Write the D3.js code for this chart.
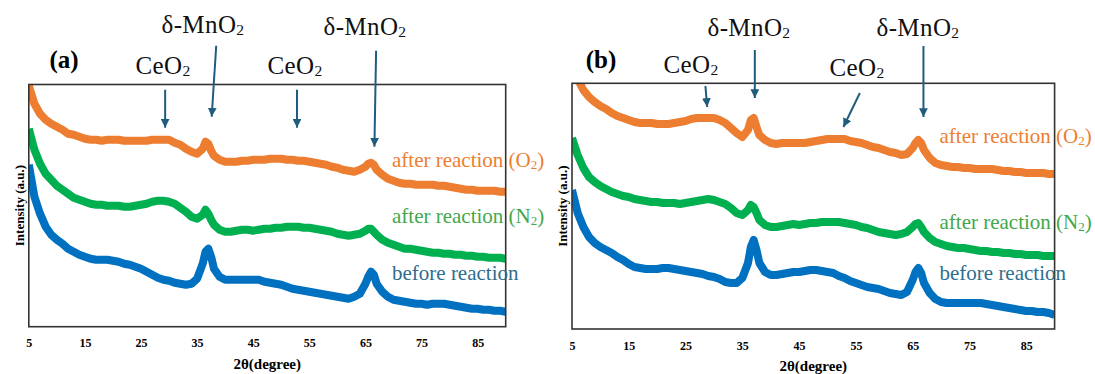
<!DOCTYPE html>
<html>
<head>
<meta charset="utf-8">
<script src="https://cdn.jsdelivr.net/npm/d3@7"></script>
<style>
  body { margin: 0; background: #fff; }
  text { font-family: "Liberation Serif", "DejaVu Serif", serif; }
</style>
</head>
<body>
<svg id="chart" width="1095" height="374"></svg>
<script>
// 2theta positions (degree), extra half steps around the two MnO2 peaks
var twoTheta = [5,6,7,8,9,10,11,12,13,14,15,16,17,18,19,20,21,22,23,24,25,26,27,28,29,30,31,32,33,34,35,36,36.5,37,37.5,
  38,39,40,41,42,43,44,45,46,47,48,49,50,51,52,53,54,55,56,57,58,59,60,61,62,63,64,65,65.5,66,66.5,
  67,68,69,70,71,72,73,74,75,76,77,78,79,80,81,82,83,84,85,86,87,88,89,90];

// panel (a) intensities, a.u. (offsets as stacked in the figure)
var aO2 = [241,223,213,207,203,200,197,193,192,190, 188,187,187,186,187,187,187,186,186,186,
  186,186,187,187,187,187,184,182,178,175, 173,178, 185,183,176,
  171,167,165,165,165,166,166, 167,167,167,168,168,168,167,167,166,166,
  165,164,163,162,160,159,157,156,155,157, 160, 163,164,162,
  157,152,148,146,144,143,143,142,142,142, 142,141,141,140,139,138,137,137,136,136, 136,136,135,135];
var aN2 = [198,177,163,153,147,141,137,133,129,127, 125,123,122,122,121,121,121,120,120,121,
  122,123,125,126,126,125,123,119,115,110, 108,112, 117,113,107,
  102,97,95,95,96,97,97, 96,97,98,98,99,99,100,100,100,99,
  99,98,97,96,95,93,92,91,92,93, 96, 98,98,95,
  92,87,84,82,80,78,78,77,76,75, 74,74,73,73,72,72,71,71,70,70, 69,69,69,68];
var aBefore = [162,130,113,100,92,87,83,78,75,72, 70,68,67,67,67,66,65,63,62,60,
  58,55,52,49,47,46,44,43,42,43, 48,63, 75,78,70,
  58,50,47,47,47,47,47, 47,47,45,44,43,42,40,38,37,36,
  35,34,33,32,31,30,29,28,30,33, 43, 50,55,52,
  43,35,30,27,26,25,24,23,23,22, 23,23,23,22,21,20,19,18,18,17, 17,16,16,15];

// panel (b) intensities, a.u.
var bO2 = [267,250,239,232,227,223,220,216,213,211, 209,207,206,206,206,205,205,205,206,207,
  208,210,211,211,211,211,209,206,201,196, 192,199, 209,211,202,
  194,189,186,185,186,186,186, 186,186,187,188,189,190,190,190,190,188,
  187,186,184,182,181,179,177,176,174,175, 181, 186,189,186,
  179,171,166,164,163,162,162,161,161,160, 160,160,160,159,158,158,157,157,156,156, 156,156,155,155];
var bN2 = [191,174,161,152,147,143,140,137,135,133, 132,130,129,128,127,127,126,126,126,125,
  126,127,128,129,130,129,127,125,121,116, 114,119, 124,122,116,
  109,104,102,102,103,104,105, 104,105,106,106,107,107,107,107,106,105,
  104,102,101,99,97,96,95,94,95,97, 102, 105,106,102,
  97,91,87,85,83,82,81,81,80,79, 78,78,77,77,76,76,75,75,74,74, 74,73,73,73];
var bBefore = [139,116,102,92,86,82,79,76,72,69, 65,62,61,60,60,60,61,61,60,59,
  58,57,56,55,53,52,50,47,46,46, 51,66, 82,89,79,
  66,57,54,54,55,56,57, 57,58,59,59,58,57,56,53,51,48,
  46,44,42,41,40,38,36,35,34,37, 49, 57,61,56,
  46,36,30,27,26,26,26,26,26,26, 26,25,24,23,22,21,20,19,18,18, 17,17,16,14];

var xTicks = [5, 15, 25, 35, 45, 55, 65, 75, 85];
var seriesLabels = ["after reaction (O_2)", "after reaction (N_2)", "before reaction"];
var lineColors = ["#ED7D31", "#00B050", "#0070C0"];
var labelColors = ["#ED7D31", "#43A849", "#2E6D8E"];
var arrowColor = "#1F5C7E";

// peak markers: arrow start [2theta, a.u.] -> arrow tip [2theta, a.u.]
var aArrows = [[[29.3, 237], [29.3, 199]], [[38.4, 281], [37.6, 210]], [[52.8, 237], [52.8, 199]], [[66.9, 276], [66.6, 180]]];
var bArrows = [[[28.5, 243], [28.8, 222]], [[37.2, 279], [37.2, 231]], [[55.7, 236], [52.8, 202]], [[66.9, 283], [66.9, 212]]];

var svg = d3.select("#chart");
var serif = "'Liberation Serif', 'DejaVu Serif', serif";

svg.append("defs").append("marker")
  .attr("id", "head")
  .attr("viewBox", "0 0 10 10")
  .attr("refX", 10).attr("refY", 5)
  .attr("markerWidth", 4.4).attr("markerHeight", 4.4)
  .attr("markerUnits", "strokeWidth")
  .attr("orient", "auto")
  .append("path").attr("d", "M0,0 L10,5 L0,10 Z").attr("fill", arrowColor);

// text with "_2" style subscripts
function subText(sel, str) {
  var parts = str.split("_");
  sel.append("tspan").text(parts[0]);
  for (var i = 1; i < parts.length; i++) {
    sel.append("tspan").attr("font-size", "62%").attr("dy", "0.15em").text(parts[i][0]);
    if (parts[i].length > 1) sel.append("tspan").attr("dy", "-0.09em").text(parts[i].slice(1));
  }
}

function drawPanel(p) {
  var x = d3.scaleLinear().domain([5, 90]).range([p.left, p.right]);
  var y = d3.scaleLinear().domain([0, p.bottom - p.top]).range([p.bottom, p.top]);
  var g = svg.append("g");

  g.append("clipPath").attr("id", "clip" + p.id)
    .append("rect").attr("x", p.left).attr("y", p.top)
    .attr("width", p.right - p.left).attr("height", p.bottom - p.top);

  var line = d3.line()
    .x(function(d, i) { return x(twoTheta[i]); })
    .y(function(d) { return y(d); });

  g.selectAll(".series")
    .data(p.series).enter()
    .append("path")
    .attr("clip-path", "url(#clip" + p.id + ")")
    .attr("d", function(d) { return line(d); })
    .attr("fill", "none")
    .attr("stroke", function(d, i) { return lineColors[i]; })
    .attr("stroke-width", 8)
    .attr("stroke-linejoin", "round");

  g.append("rect")
    .attr("x", p.left).attr("y", p.top)
    .attr("width", p.right - p.left).attr("height", p.bottom - p.top)
    .attr("fill", "none").attr("stroke", "#333").attr("stroke-width", 1.6);

  var ax = g.append("g")
    .attr("transform", "translate(0," + p.bottom + ")")
    .call(d3.axisBottom(x).tickValues(xTicks).tickSize(0).tickPadding(12));
  ax.select(".domain").remove();
  ax.attr("font-family", serif);
  ax.selectAll("text")
    .attr("font-size", 12).attr("font-weight", "bold").attr("fill", "#000");

  g.append("text")
    .attr("x", (p.left + p.right) / 2).attr("y", p.bottom + 42)
    .attr("text-anchor", "middle").attr("font-size", 15).attr("font-weight", "bold")
    .text("2θ(degree)");

  g.append("text")
    .attr("transform", "translate(" + p.yTitleX + "," + ((p.top + p.bottom) / 2) + ") rotate(-90)")
    .attr("text-anchor", "middle").attr("dominant-baseline", "central")
    .attr("font-size", 13).attr("font-weight", "bold")
    .text("Intensity (a.u.)");

  g.append("text")
    .attr("x", p.tagX).attr("y", 68)
    .attr("text-anchor", "middle").attr("font-size", 25).attr("font-weight", "bold")
    .text(p.tag);

  // series labels
  p.labelY.forEach(function(ly, i) {
    var t = g.append("text").attr("x", p.labelX).attr("y", ly)
      .attr("font-size", 21).attr("fill", labelColors[i]);
    subText(t, seriesLabels[i]);
  });

  // phase arrows
  p.arrows.forEach(function(a) {
    g.append("line")
      .attr("x1", x(a[0][0])).attr("y1", y(a[0][1]))
      .attr("x2", x(a[1][0])).attr("y2", y(a[1][1]))
      .attr("stroke", arrowColor).attr("stroke-width", 2)
      .attr("marker-end", "url(#head)");
  });

  p.phases.forEach(function(ph) {
    var t = g.append("text").attr("x", ph[1]).attr("y", ph[2])
      .attr("text-anchor", "middle").attr("font-size", 25)
      .attr("letter-spacing", 0.4).attr("fill", "#111");
    subText(t, ph[0]);
  });
}

drawPanel({
  id: "a", tag: "(a)", tagX: 64,
  left: 28.8, right: 505.7, top: 84.5, bottom: 326.7, yTitleX: 19.5,
  series: [aO2, aN2, aBefore],
  labelX: 392, labelY: [167, 223, 280],
  arrows: aArrows,
  phases: [["δ-MnO_2", 203, 33], ["CeO_2", 163, 74], ["CeO_2", 295, 74], ["δ-MnO_2", 365, 35]]
});

drawPanel({
  id: "b", tag: "(b)", tagX: 601,
  left: 572, right: 1054.6, top: 83.3, bottom: 329, yTitleX: 562,
  series: [bO2, bN2, bBefore],
  labelX: 939.5, labelY: [143, 229, 280],
  arrows: bArrows,
  phases: [["CeO_2", 691, 73], ["δ-MnO_2", 749, 36], ["CeO_2", 857, 76], ["δ-MnO_2", 918, 36]]
});
</script>
</body>
</html>
